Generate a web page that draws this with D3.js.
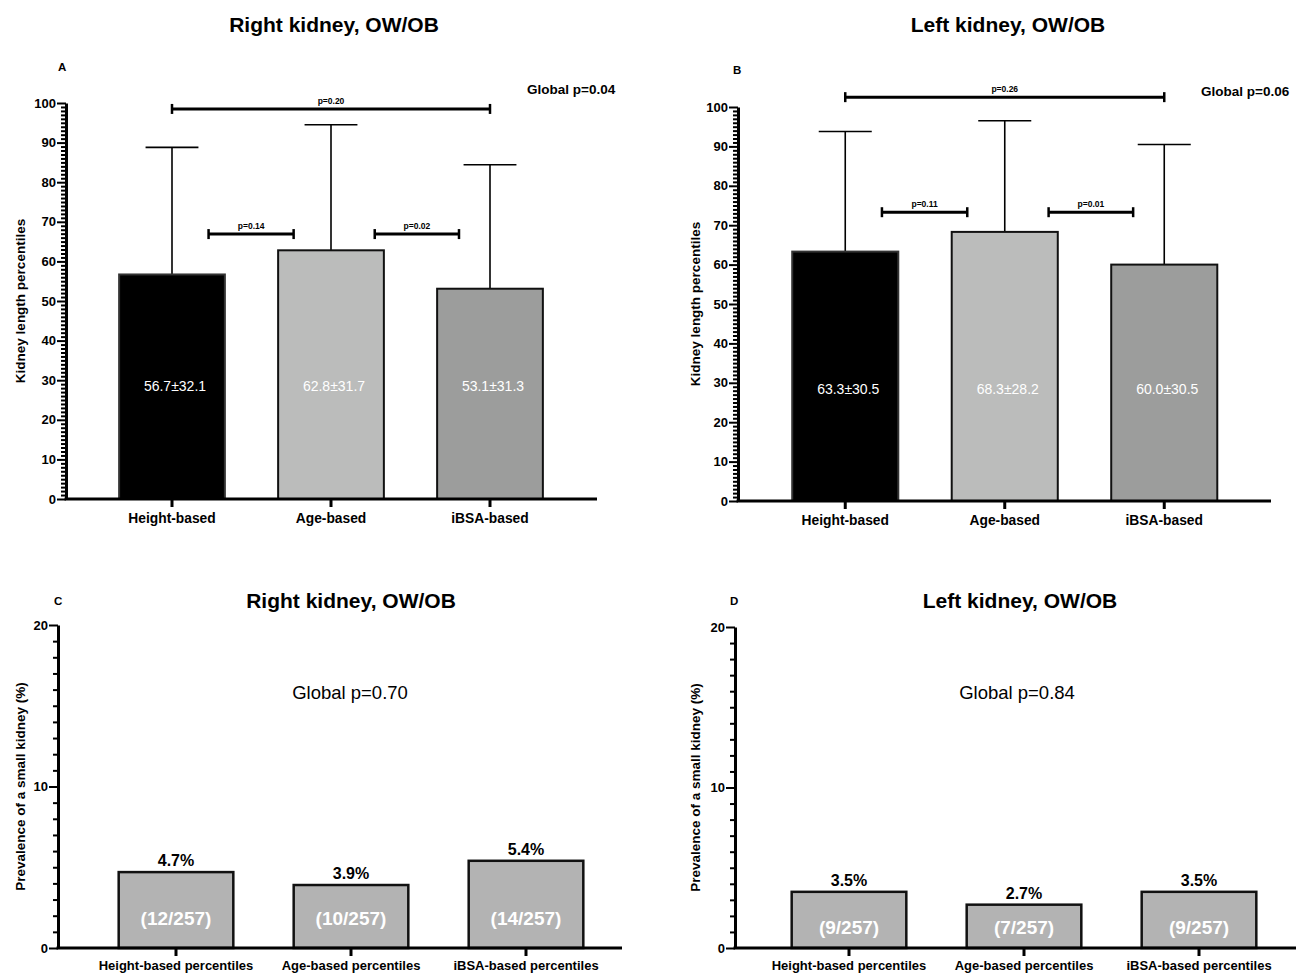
<!DOCTYPE html>
<html>
<head>
<meta charset="utf-8">
<script src="https://cdn.jsdelivr.net/npm/d3@7"></script>
<style>
  body { margin: 0; background: #fff; }
  svg { display: block; font-family: "Liberation Sans", Arial, sans-serif; }
</style>
</head>
<body>
<script>
// categories
var meanCategories = ["Height-based", "Age-based", "iBSA-based"];
var prevCategories = ["Height-based percentiles", "Age-based percentiles", "iBSA-based percentiles"];

// panel A / B : mean ± SD of kidney length percentiles
var rightMeans = [56.7, 62.8, 53.1];
var rightSD = [32.1, 31.7, 31.3];
var leftMeans = [63.3, 68.3, 60.0];
var leftSD = [30.5, 28.2, 30.5];

// pairwise p values: [from, to, level, label]
var rightPairs = [[0, 2, 98.5, "p=0.20"], [0.23, 0.765, 66.9, "p=0.14"], [1.275, 1.805, 66.9, "p=0.02"]];
var leftPairs = [[0, 2, 102.5, "p=0.26"], [0.23, 0.765, 73.3, "p=0.11"], [1.275, 1.805, 73.3, "p=0.01"]];

// panel C / D : prevalence of a small kidney
var rightPrev = [4.7, 3.9, 5.4];
var rightCounts = ["(12/257)", "(10/257)", "(14/257)"];
var leftPrev = [3.5, 2.7, 3.5];
var leftCounts = ["(9/257)", "(7/257)", "(9/257)"];

// ticks
var meanTicks = [0, 10, 20, 30, 40, 50, 60, 70, 80, 90, 100];
var prevTicks = [0, 10, 20];

var meanFills = ["#000000", "#bbbcbb", "#9c9d9c"];

var svg = d3.select("body").append("svg")
  .attr("width", 1304)
  .attr("height", 975);

function yAxisDraw(g, y, ticks, minorMax, x0) {
  var minor = d3.range(0, minorMax + 1).filter(function(d) { return ticks.indexOf(d) < 0; });
  g.append("g")
    .attr("transform", "translate(" + x0 + ",0)")
    .call(d3.axisLeft(y).tickValues(minor).tickSize(5).tickSizeOuter(0).tickFormat(""))
    .call(function(a) { a.select(".domain").remove(); a.selectAll("line").attr("stroke-width", 2); });
  var ax = g.append("g")
    .attr("transform", "translate(" + x0 + ",0)")
    .call(d3.axisLeft(y).tickValues(ticks).tickSize(9).tickSizeOuter(0).tickPadding(1));
  ax.select(".domain").attr("stroke-width", 3);
  ax.selectAll("line").attr("stroke-width", 2);
  ax.selectAll("text").attr("font-size", 13).attr("font-weight", "bold").attr("fill", "#000");
}

function xAxisDraw(g, x, y0, x0, x1, fontSize, labelDy) {
  var ax = g.append("g")
    .attr("transform", "translate(0," + y0 + ")")
    .call(d3.axisBottom(x).tickSize(8).tickSizeOuter(0).tickPadding(labelDy));
  ax.select(".domain").remove();
  ax.selectAll("line").attr("stroke-width", 3);
  ax.selectAll("text").attr("font-size", fontSize).attr("font-weight", "bold").attr("fill", "#000");
  g.append("line")
    .attr("x1", x0 - 1.5).attr("x2", x1)
    .attr("y1", y0).attr("y2", y0)
    .attr("stroke", "#000").attr("stroke-width", 3);
}

function drawMeanPanel(p) {
  var g = svg.append("g");
  var y = d3.scaleLinear().domain([0, 100]).range([p.y0, p.y100]);
  var x = d3.scaleBand().domain(meanCategories).range([p.bandStart, p.bandEnd]).paddingInner(0.335).paddingOuter(0.1675);
  var c = function(i) { return x(meanCategories[0]) + x.bandwidth() / 2 + i * x.step(); };

  // error bars
  g.selectAll(".err").data(p.means).enter().append("line")
    .attr("x1", function(d, i) { return c(i); })
    .attr("x2", function(d, i) { return c(i); })
    .attr("y1", function(d) { return y(d); })
    .attr("y2", function(d, i) { return y(d + p.sd[i]); })
    .attr("stroke", "#000").attr("stroke-width", 1.6);
  g.selectAll(".cap").data(p.means).enter().append("line")
    .attr("x1", function(d, i) { return c(i) - x.bandwidth() / 4; })
    .attr("x2", function(d, i) { return c(i) + x.bandwidth() / 4; })
    .attr("y1", function(d, i) { return y(d + p.sd[i]); })
    .attr("y2", function(d, i) { return y(d + p.sd[i]); })
    .attr("stroke", "#000").attr("stroke-width", 1.6);

  // bars
  g.selectAll("rect").data(p.means).enter().append("rect")
    .attr("x", function(d, i) { return x(meanCategories[i]); })
    .attr("y", function(d) { return y(d); })
    .attr("width", x.bandwidth())
    .attr("height", function(d) { return y(0) - y(d); })
    .attr("fill", function(d, i) { return meanFills[i]; })
    .attr("stroke", function(d, i) { return i === 0 ? "#333" : "#111"; })
    .attr("stroke-width", 2);

  g.selectAll(".val").data(p.means).enter().append("text")
    .attr("x", function(d, i) { return c(i) + 3; })
    .attr("y", y(28.5) + 5)
    .attr("text-anchor", "middle")
    .attr("font-size", 14)
    .attr("fill", "#fff")
    .text(function(d, i) { return d.toFixed(1) + "\u00b1" + p.sd[i].toFixed(1); });

  // brackets
  p.pairs.forEach(function(b) {
    var xa = c(b[0]), xb = c(b[1]), yy = y(b[2]);
    g.append("line").attr("x1", xa).attr("x2", xb).attr("y1", yy).attr("y2", yy)
      .attr("stroke", "#000").attr("stroke-width", 3);
    [xa, xb].forEach(function(xx) {
      g.append("line").attr("x1", xx).attr("x2", xx).attr("y1", yy - 5).attr("y2", yy + 5)
        .attr("stroke", "#000").attr("stroke-width", 2.5);
    });
    g.append("text").attr("x", (xa + xb) / 2).attr("y", yy - 5)
      .attr("text-anchor", "middle").attr("font-size", 8.5).attr("font-weight", "bold")
      .text(b[3]);
  });

  yAxisDraw(g, y, meanTicks, 100, p.axisX);
  xAxisDraw(g, x, p.y0, p.axisX, p.axisEnd, 13.8, 6);

  g.append("text").attr("x", p.titleX).attr("y", 32).attr("text-anchor", "middle")
    .attr("font-size", 21).attr("font-weight", "bold").text(p.title);
  g.append("text").attr("x", p.letterX).attr("y", p.letterY)
    .attr("font-size", 11.5).attr("font-weight", "bold").text(p.letter);
  g.append("text").attr("x", p.globalX).attr("y", p.globalY)
    .attr("font-size", 13.5).attr("font-weight", "bold").text(p.global);
  g.append("text")
    .attr("transform", "translate(" + p.labelX + "," + ((p.y0 + p.y100) / 2) + ") rotate(-90)")
    .attr("text-anchor", "middle").attr("font-size", 13.5).attr("font-weight", "bold")
    .text("Kidney length percentiles");
}

function drawPrevPanel(p) {
  var g = svg.append("g");
  var y = d3.scaleLinear().domain([0, 20]).range([p.y0, p.y20]);
  var x = d3.scaleBand().domain(prevCategories).range([p.bandStart, p.bandEnd]).paddingInner(0.345).paddingOuter(0.1725);
  var c = function(i) { return x(prevCategories[i]) + x.bandwidth() / 2; };

  g.selectAll("rect").data(p.values).enter().append("rect")
    .attr("x", function(d, i) { return x(prevCategories[i]); })
    .attr("y", function(d) { return y(d); })
    .attr("width", x.bandwidth())
    .attr("height", function(d) { return y(0) - y(d); })
    .attr("fill", "#b3b3b3")
    .attr("stroke", "#111")
    .attr("stroke-width", 2.5);

  g.selectAll(".pct").data(p.values).enter().append("text")
    .attr("x", function(d, i) { return c(i); })
    .attr("y", function(d) { return y(d) - 6; })
    .attr("text-anchor", "middle").attr("font-size", 16).attr("font-weight", "bold")
    .text(function(d) { return d.toFixed(1) + "%"; });

  g.selectAll(".cnt").data(p.counts).enter().append("text")
    .attr("x", function(d, i) { return c(i); })
    .attr("y", y(p.countLevel) + 7)
    .attr("text-anchor", "middle").attr("font-size", 19).attr("font-weight", "bold")
    .attr("fill", "#fff")
    .text(function(d) { return d; });

  yAxisDraw(g, y, prevTicks, 20, p.axisX);
  xAxisDraw(g, x, p.y0, p.axisX, p.axisEnd, 13, 5);

  g.append("text").attr("x", p.titleX).attr("y", 608).attr("text-anchor", "middle")
    .attr("font-size", 21).attr("font-weight", "bold").text(p.title);
  g.append("text").attr("x", p.letterX).attr("y", 605)
    .attr("font-size", 11.5).attr("font-weight", "bold").text(p.letter);
  g.append("text").attr("x", p.globalX).attr("y", 699).attr("text-anchor", "middle")
    .attr("font-size", 18.5).text(p.global);
  g.append("text")
    .attr("transform", "translate(" + p.labelX + "," + ((p.y0 + p.y20) / 2) + ") rotate(-90)")
    .attr("text-anchor", "middle").attr("font-size", 13.5).attr("font-weight", "bold")
    .text("Prevalence of a small kidney (%)");
}

drawMeanPanel({
  means: rightMeans, sd: rightSD, pairs: rightPairs,
  y0: 499, y100: 103, axisX: 66, axisEnd: 597, bandStart: 92.5, bandEnd: 569.5,
  title: "Right kidney, OW/OB", titleX: 334, letter: "A", letterX: 58, letterY: 71,
  global: "Global p=0.04", globalX: 527, globalY: 94, labelX: 25
});
drawMeanPanel({
  means: leftMeans, sd: leftSD, pairs: leftPairs,
  y0: 501, y100: 107, axisX: 738, axisEnd: 1271, bandStart: 765.5, bandEnd: 1244,
  title: "Left kidney, OW/OB", titleX: 1008, letter: "B", letterX: 733, letterY: 74,
  global: "Global p=0.06", globalX: 1201, globalY: 96, labelX: 700
});
drawPrevPanel({
  values: rightPrev, counts: rightCounts, countLevel: 1.85,
  y0: 948, y20: 625, axisX: 58, axisEnd: 622, bandStart: 88.5, bandEnd: 613.5,
  title: "Right kidney, OW/OB", titleX: 351, letter: "C", letterX: 54,
  global: "Global p=0.70", globalX: 350, labelX: 25
});
drawPrevPanel({
  values: leftPrev, counts: leftCounts, countLevel: 1.3,
  y0: 948, y20: 627, axisX: 735, axisEnd: 1296, bandStart: 761.5, bandEnd: 1286.5,
  title: "Left kidney, OW/OB", titleX: 1020, letter: "D", letterX: 730,
  global: "Global p=0.84", globalX: 1017, labelX: 700
});
</script>
</body>
</html>
